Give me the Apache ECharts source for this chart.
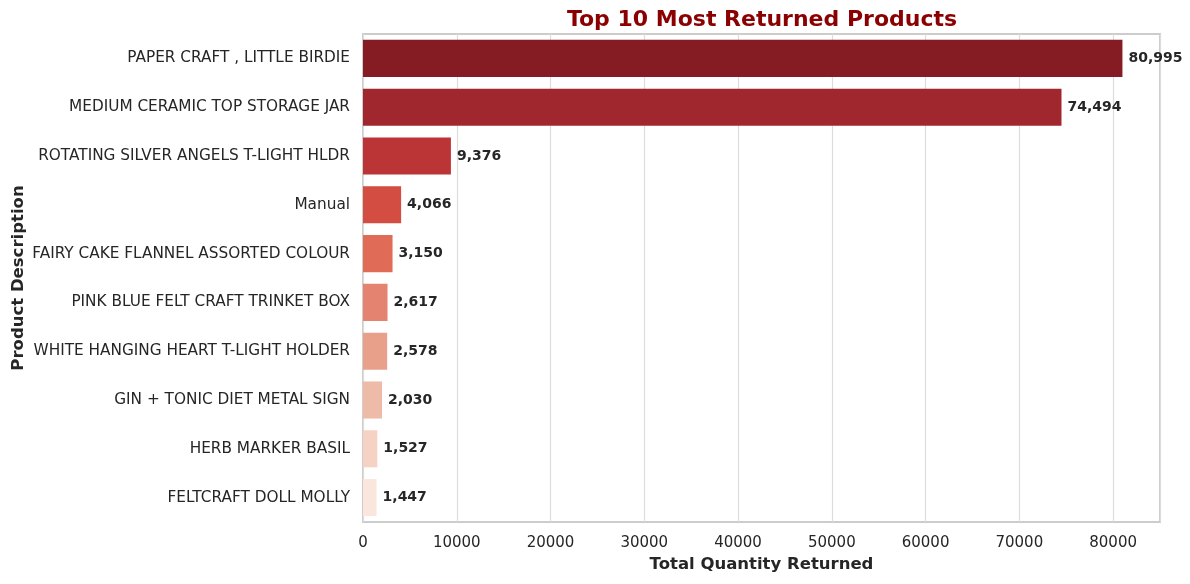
<!DOCTYPE html>
<html><head><meta charset="utf-8">
<script src="https://cdn.jsdelivr.net/npm/echarts@6/dist/echarts.min.js"></script>
<style>html,body{margin:0;padding:0;background:#fff}#c{width:1190px;height:584px}</style>
</head><body><div id="c"></div>
<script>
const products = ["PAPER CRAFT , LITTLE BIRDIE","MEDIUM CERAMIC TOP STORAGE JAR","ROTATING SILVER ANGELS T-LIGHT HLDR","Manual","FAIRY CAKE FLANNEL ASSORTED COLOUR","PINK BLUE FELT CRAFT TRINKET BOX","WHITE HANGING HEART T-LIGHT HOLDER","GIN + TONIC DIET METAL SIGN","HERB MARKER BASIL","FELTCRAFT DOLL MOLLY"];
const returned = [80995,74494,9376,4066,3150,2617,2578,2030,1527,1447];
const barColors = ["#851c24","#a1272e","#bb3436","#d34d43","#e06c58","#e48370","#e9a08a","#eebba8","#f6d2c4","#fbe6de"];
const xTicks = [0,10000,20000,30000,40000,50000,60000,70000,80000];

const chart = echarts.init(document.getElementById('c'));
const font = "DejaVu Sans";
chart.setOption({
  animation:false,
  backgroundColor:'#fff',
  title:{text:'Top 10 Most Returned Products',left:757,top:4,textAlign:'center',
    textStyle:{color:'#8b0000',fontFamily:font,fontWeight:'bold',fontSize:22}},
  grid:{left:363,right:30,top:34,bottom:62,show:true,borderColor:'#cccccc',borderWidth:2,backgroundColor:'transparent',
    containLabel:false,outerBoundsMode:'none'},
  xAxis:{type:'value',min:0,max:85000,interval:10000,
    name:'Total Quantity Returned',nameLocation:'middle',nameGap:34,nameMoveOverlap:false,
    nameTextStyle:{fontFamily:font,fontWeight:'bold',fontSize:16.5,color:'#262626'},
    axisLine:{show:false},axisTick:{show:false},
    axisLabel:{fontFamily:font,fontSize:15,color:'#262626',margin:14,
      formatter:v=>xTicks.includes(v)?String(v):''},
    splitLine:{show:true,lineStyle:{color:'#dcdcdc',width:1.2}}},
  yAxis:{type:'category',data:products,inverse:true,
    name:'Product Description',nameLocation:'middle',nameGap:336,nameMoveOverlap:false,
    nameTextStyle:{fontFamily:font,fontWeight:'bold',fontSize:16.5,color:'#262626'},
    axisLine:{show:false},axisTick:{show:false},
    axisLabel:{fontFamily:font,fontSize:15.3,color:'#262626',margin:13},
    splitLine:{show:false}},
  series:[{type:'bar',barWidth:'76%',
    data:returned.map((v,i)=>({value:v,itemStyle:{color:barColors[i]}})),
    label:{show:true,position:'right',distance:6,fontFamily:font,fontWeight:'bold',fontSize:14,color:'#262626',
      formatter:p=>p.value.toLocaleString('en-US')}}]
});
</script></body></html>
